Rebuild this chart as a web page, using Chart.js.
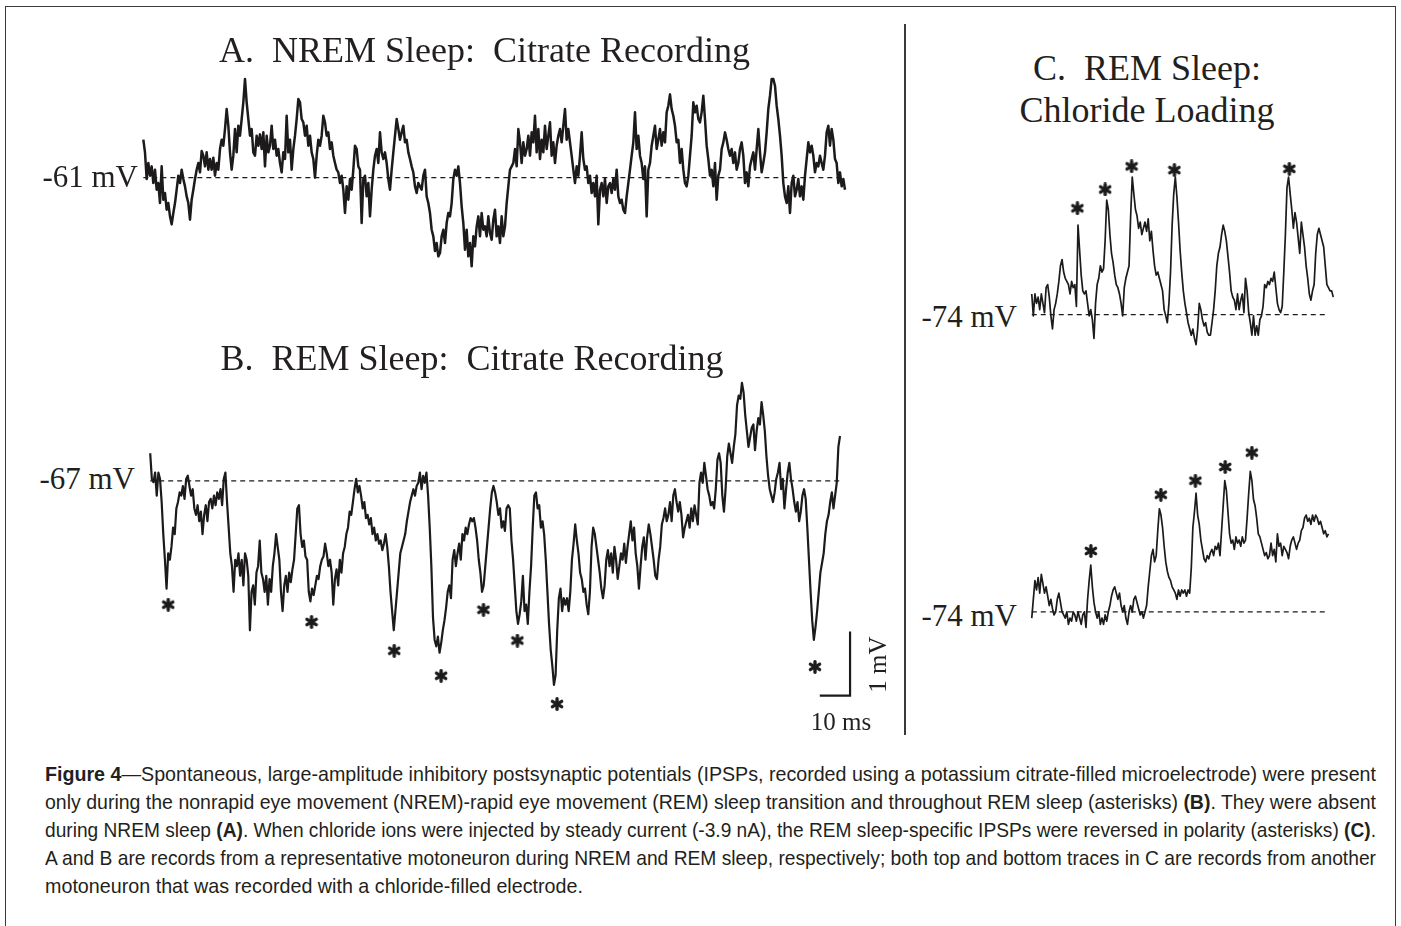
<!DOCTYPE html>
<html>
<head>
<meta charset="utf-8">
<title>Figure 4</title>
<script src="https://cdn.jsdelivr.net/npm/chart.js@4.4.1/dist/chart.umd.min.js"></script>
<style>
  html, body { margin: 0; padding: 0; background: #fff; }
  body { width: 1401px; height: 926px; position: relative; overflow: hidden; color: #231f20; }
  .frame { position: absolute; left: 5px; top: 6px; width: 1389px; height: 980px; border: 1.5px solid #3a3a3a; }
  .divider { position: absolute; left: 904px; top: 24px; width: 1.5px; height: 711px; background: #3a3a3a; }
  .serif { position: absolute; font-family: "Liberation Serif", "Times New Roman", serif; line-height: 1; white-space: pre; }
  canvas { position: absolute; }
  .caption { position: absolute; left: 45px; top: 760px; width: 1331px;
    font-family: "Liberation Sans Narrow", "Arial Narrow", "Liberation Sans", sans-serif;
    font-size: 21px; line-height: 28px; }
  .caption div { white-space: nowrap; transform-origin: 0 0; }
  .caption span { display: inline-block; }
</style>
</head>
<body>
<div class="frame"></div>
<div class="divider"></div>

<div class="caption">
  <div><span><b>Figure 4</b>—Spontaneous, large-amplitude inhibitory postsynaptic potentials (IPSPs, recorded using a potassium citrate-filled microelectrode) were present</span></div>
  <div><span>only during the nonrapid eye movement (NREM)-rapid eye movement (REM) sleep transition and throughout REM sleep (asterisks) <b>(B)</b>. They were absent</span></div>
  <div><span>during NREM sleep <b>(A)</b>. When chloride ions were injected by steady current (-3.9 nA), the REM sleep-specific IPSPs were reversed in polarity (asterisks) <b>(C)</b>.</span></div>
  <div><span>A and B are records from a representative motoneuron during NREM and REM sleep, respectively; both top and bottom traces in C are records from another</span></div>
  <div><span>motoneuron that was recorded with a chloride-filled electrode.</span></div>
</div>

<script>
// traces: one sample every DT ms, values in mV from the resting level
const DT = 0.54;

const panelTitles = ['A.  NREM Sleep:  Citrate Recording', 'B.  REM Sleep:  Citrate Recording', 'C.  REM Sleep:', 'Chloride Loading'];
const restingLabels = ['-61 mV', '-67 mV', '-74 mV', '-74 mV'];
const scaleLabels = ['10 ms', '1 mV'];

// A. NREM sleep, citrate electrode (-61 mV)
const nremA = [
  0.57, 0.38, -0.02, 0.22, 0.03, 0.17, -0.08, 0.12, -0.18, -0.08,
  -0.38, 0.17, -0.33, -0.23, -0.48, -0.38, -0.58, -0.70, -0.53, -0.38,
  -0.18, 0.03, -0.08, 0.12, -0.02, -0.13, -0.28, -0.38, -0.63, -0.33,
  -0.18, -0.02, 0.12, 0.22, 0.08, 0.40, 0.33, 0.17, 0.38, 0.12,
  0.28, 0.12, 0.30, 0.03, 0.22, 0.12, 0.43, 0.57, 0.48, 0.73,
  1.03, 0.78, 0.38, 0.12, 0.33, 0.73, 0.38, 0.78, 0.63, 0.88,
  1.13, 1.48, 1.13, 0.88, 0.63, 0.73, 0.38, 0.33, 0.63, 0.48,
  0.65, 0.43, 0.68, 0.17, 0.63, 0.38, 0.48, 0.78, 0.43, 0.57,
  0.33, 0.43, 0.22, 0.08, 0.38, 0.28, 0.93, 0.38, 0.57, 0.12,
  0.43, 0.63, 0.88, 1.18, 1.13, 0.88, 0.83, 0.63, 0.78, 0.48,
  0.63, 0.38, 0.28, 0.00, 0.33, 0.57, 0.48, 0.63, 0.93, 0.83,
  0.63, 0.68, 0.43, 0.53, 0.33, 0.22, 0.12, 0.08, -0.08, 0.03,
  -0.18, -0.53, -0.13, -0.33, -0.02, -0.18, 0.12, 0.48, 0.43, 0.17,
  0.12, -0.68, -0.02, 0.03, -0.28, -0.08, -0.58, -0.18, 0.12, 0.33,
  0.43, 0.22, 0.68, 0.38, 0.28, 0.38, 0.22, -0.02, -0.18, 0.12,
  0.38, 0.63, 0.88, 0.73, 0.57, 0.68, 0.78, 0.53, 0.57, 0.38,
  0.28, 0.17, 0.08, -0.13, -0.23, -0.08, -0.13, -0.18, 0.03, 0.12,
  -0.28, -0.38, -0.53, -0.78, -0.88, -1.10, -0.98, -1.18, -1.13, -0.88,
  -0.78, -0.98, -0.68, -0.53, -0.58, -0.38, -0.02, 0.12, 0.03, 0.17,
  -0.08, -0.43, -0.68, -1.08, -0.78, -1.18, -0.98, -1.33, -0.88, -1.03,
  -0.73, -0.58, -0.88, -0.53, -0.78, -0.73, -0.88, -0.58, -0.83, -0.93,
  -0.63, -0.48, -0.88, -0.73, -0.98, -0.58, -0.88, -0.73, -0.38, -0.13,
  0.12,
  0.17, 0.22, 0.43, 0.17, 0.73, 0.53, 0.22, 0.53, 0.33, 0.43,
  0.63, 0.33, 0.68, 0.53, 0.93, 0.38, 0.73, 0.28, 0.57, 0.38,
  0.78, 0.43, 0.63, 0.83, 0.33, 0.53, 0.22, 0.48, 0.63, 0.73,
  0.53, 0.78, 1.03, 0.57, 0.73, 0.53, 0.33, 0.12, -0.08, 0.17,
  0.03, 0.33, 0.68, 0.28, 0.12, 0.17, -0.08, 0.03, -0.23, -0.08,
  -0.28, 0.03, -0.70, -0.18, -0.08, -0.28, -0.02, -0.38, -0.13, -0.08,
  -0.23, -0.02, -0.18, 0.12, -0.28, -0.38, -0.33, -0.48, -0.53, -0.28,
  -0.08, 0.12, 0.33, 0.53, 0.98, 0.43, 0.63, 0.33, 0.22, -0.02,
  0.17, -0.58, 0.12, 0.22, 0.48, 0.63, 0.78, 0.43, 0.57, 0.73,
  0.48, 0.68, 0.53, 0.98, 1.08, 1.25, 1.03, 0.93, 0.78, 0.53,
  0.57, 0.22, 0.43, 0.12, -0.08, -0.13, 0.03, 0.33, 0.63, 1.13,
  0.98, 1.08, 0.88, 0.83, 0.98, 1.23, 0.88, 0.48, 0.28, 0.03,
  0.12, -0.13, 0.22, -0.33, 0.03, 0.12, 0.43, 0.53, 0.68, 0.57,
  0.43, 0.33, 0.43, 0.22, 0.38, 0.12, 0.22, 0.43, 0.53, 0.33,
  -0.08, 0.08, -0.13, 0.17, 0.28, 0.38, 0.12, 0.43, 0.73, 0.38,
  0.08, 0.22, 0.38, 0.68, 1.03, 1.23, 1.48, 1.48, 1.38, 1.08,
  0.88, 0.63, 0.33, -0.08, -0.28, -0.38, -0.13, -0.53, -0.08, 0.03,
  -0.28, -0.18, -0.02, -0.28, -0.13, -0.33, 0.03, 0.28, 0.53, 0.38,
  0.48, 0.33, 0.08, 0.22, 0.17, 0.33, 0.22, 0.12, 0.33, 0.68,
  0.78, 0.48, 0.73, 0.57, 0.28, 0.22, -0.08, 0.08, -0.13, -0.02,
  -0.18
];

// B. REM sleep, citrate electrode (-67 mV)
const remB = [
  0.43, 0.03, -0.02, 0.13, -0.23, 0.13, 0.03, -0.33, -0.83, -1.23,
  -1.68, -1.13, -1.23, -1.03, -0.73, -0.83, -0.43, -0.33, -0.18, -0.23,
  -0.08, -0.28, 0.03, 0.08, -0.08, -0.23, -0.13, -0.43, -0.53, -0.38,
  -0.63, -0.48, -0.83, -0.53, -0.38, -0.63, -0.33, -0.28, -0.43, -0.23,
  -0.38, -0.18, -0.28, -0.13, -0.38, 0.03, 0.13, -0.33, -0.73, -1.13,
  -1.33, -1.73, -1.23, -1.33, -1.13, -1.48, -1.23, -1.63, -1.13, -1.23,
  -1.48, -2.33, -1.73, -1.63, -1.93, -1.43, -1.33, -0.93, -1.43, -1.53,
  -1.73, -1.48, -1.93, -1.53, -1.73, -1.33, -1.13, -0.83, -1.03, -1.23,
  -1.73, -2.03, -1.63, -1.48, -1.73, -1.43, -1.58, -1.38, -1.23, -0.83,
  -0.43, -0.38, -0.83, -1.03, -0.93, -1.18, -1.23, -1.73, -1.88, -1.68,
  -1.78, -1.63, -1.48, -1.53, -1.33, -1.23, -1.18, -0.98, -1.13, -1.33,
  -1.23, -1.43, -1.93, -1.53, -1.38, -1.63, -1.23, -1.43, -1.13, -1.03,
  -0.83, -0.73, -0.48, -0.53, -0.33, -0.13, 0.03, -0.18, -0.08, -0.23,
  -0.43, -0.33, -0.58, -0.53, -0.68, -0.58, -0.83, -0.73, -0.93, -0.83,
  -0.98, -0.93, -1.08, -0.98, -0.83, -1.03, -1.33, -1.73, -2.03, -2.33,
  -2.03, -1.73, -1.43, -1.13, -1.03, -0.93, -0.83, -0.63, -0.48, -0.33,
  -0.23, -0.13, -0.23, -0.08, -0.03, 0.13, -0.13, 0.08, -0.03, 0.13,
  -0.23, -0.73, -1.33, -2.13, -2.48, -2.58, -2.43, -2.68, -2.53, -2.33,
  -2.18, -1.98, -1.73, -1.63, -1.83, -1.23, -1.08, -1.33, -1.13, -0.98,
  -1.23, -0.83, -0.93, -0.73, -0.83, -0.68, -0.58, -0.63, -0.58, -0.73,
  -0.93, -1.23, -1.43, -1.73, -1.63, -1.33, -1.03, -0.73, -0.43, -0.18,
  -0.08, -0.18, -0.33, -0.53, -0.43, -0.73, -0.63, -0.78, -0.43, -0.38,
  -0.43,
  -0.93, -1.23, -1.63, -2.03, -2.23, -2.08, -1.88, -1.48, -2.03, -1.93,
  -2.23, -1.73, -1.33, -0.73, -0.23, -0.18, -0.43, -0.38, -0.73, -0.63,
  -0.83, -1.23, -1.73, -2.23, -2.63, -2.88, -3.18, -3.03, -2.33, -1.83,
  -1.68, -2.03, -1.83, -1.93, -1.83, -2.03, -1.73, -1.23, -0.98, -0.68,
  -0.93, -1.13, -1.43, -1.53, -1.73, -1.68, -1.93, -2.08, -1.73, -1.03,
  -0.73, -0.83, -1.03, -1.23, -1.43, -1.68, -1.83, -1.63, -1.23, -1.08,
  -1.33, -1.13, -1.43, -1.03, -1.23, -1.53, -1.33, -1.13, -1.23, -0.98,
  -1.28, -1.03, -0.83, -0.63, -0.93, -0.73, -1.13, -1.33, -1.68, -1.33,
  -1.03, -0.88, -1.23, -0.88, -0.68, -0.83, -1.03, -1.23, -1.48, -1.53,
  -1.23, -1.03, -0.68, -0.58, -0.43, -0.63, -0.53, -0.33, -0.63, -0.23,
  -0.13, -0.33, -0.48, -0.33, -0.53, -0.88, -0.73, -0.63, -0.53, -0.73,
  -0.43, -0.63, -0.38, -0.53, -0.68, -0.03, 0.13, -0.03, 0.28, 0.08,
  -0.13, -0.23, -0.38, -0.33, -0.43, -0.13, 0.33, 0.43, 0.28, -0.23,
  -0.48, -0.13, 0.38, 0.58, 0.43, 0.28, 0.53, 0.73, 1.18, 1.33,
  1.28, 1.53, 1.38, 1.03, 0.78, 0.53, 0.68, 0.83, 0.88, 0.48,
  0.78, 0.98, 0.88, 1.23, 1.03, 0.78, 0.38, 0.08, -0.13, -0.23,
  -0.33, -0.18, 0.03, 0.13, 0.28, -0.13, 0.03, -0.43, -0.13, 0.13,
  0.28, 0.03, -0.13, -0.33, -0.48, -0.33, -0.63, -0.48, -0.23, -0.13,
  -0.28, -0.73, -1.23, -1.73, -2.18, -2.48, -2.28, -2.03, -1.73, -1.43,
  -1.28, -1.13, -0.83, -0.63, -0.53, -0.33, -0.18, -0.43, -0.23, -0.03,
  0.53, 0.70
];
const remBStarT = [5.95, 53.3, 80.6, 96.1, 110.1, 121.3, 134.4, 219.6];
const remBStarV = [-1.93, -2.20, -2.65, -3.04, -2.01, -2.49, -3.48, -2.90];

// C. REM sleep, chloride loading (top and bottom, both -74 mV)
const chlorideTop = [
  0.33, -0.02, 0.33, 0.18, 0.28, 0.08, 0.33, 0.18, 0.03, 0.43,
  0.48, 0.28, -0.02, -0.23, 0.08, 0.18, 0.33, 0.53, 0.78, 0.88,
  0.68, 0.58, 0.53, 0.48, 0.33, 0.53, 0.43, 0.48, 0.13, 1.43,
  1.03, 0.63, 0.38, 0.33, 0.38, 0.18, -0.02, 0.08, -0.08, -0.38,
  0.18, 0.48, 0.58, 0.78, 0.68, 0.73, 1.18, 1.83, 1.68, 1.28,
  0.98, 0.83, 0.63, 0.48, 0.43, 0.33, 0.18, -0.02, 0.43, 0.58,
  0.68, 0.78, 1.58, 2.20, 1.93, 1.68, 1.58, 1.38, 1.48, 1.28,
  1.38, 1.48, 1.33, 1.53, 1.18, 1.33, 1.03, 0.78, 0.63, 0.68,
  0.58, 0.48, 0.38, 0.08, -0.02, -0.13, 0.18, 0.68, 1.43, 1.93,
  2.20, 1.88, 1.48, 1.03, 0.68, 0.38, 0.18, 0.03, -0.13, -0.23,
  -0.33, -0.23, -0.38, -0.48, -0.23, 0.18, 0.08, -0.08, -0.18, -0.13,
  -0.28, -0.33, -0.33, -0.13, 0.08, 0.38, 0.78, 0.98, 1.08, 1.28,
  1.43, 1.33, 1.18, 0.93, 0.68, 0.38, 0.28, 0.23, 0.08, 0.33,
  0.08, 0.23, 0.33, 0.03, 0.58, 0.38, 0.03, -0.13, -0.33, -0.02,
  -0.33, -0.18, -0.33, -0.08, -0.02, 0.13, 0.48, 0.43, 0.53, 0.48,
  0.58, 0.53, 0.68, 0.43, 0.18, 0.08, 0.03, 0.13, 0.68, 1.28,
  2.03, 2.20, 1.93, 1.68, 1.38, 1.63, 1.48, 1.23, 0.98, 1.48,
  1.28, 1.08, 0.78, 0.58, 0.33, 0.23, 0.38, 0.48, 0.98, 1.28,
  1.38, 1.28, 1.18, 1.08, 0.78, 0.48, 0.43, 0.38, 0.38, 0.28
];
const chlorideTopStarT = [15.45, 24.85, 33.8, 48.3, 87.2];
const chlorideTopStarV = [1.70, 2.00, 2.37, 2.31, 2.33];

const chlorideBottom = [
  -0.10, 0.20, 0.50, 0.35, 0.55, 0.30, 0.60, 0.45, 0.30, 0.40,
  0.25, 0.10, 0.20, 0.05, -0.05, 0.00, 0.20, 0.30, 0.15, 0.00,
  -0.05, -0.10, 0.00, -0.20, -0.10, -0.15, 0.00, -0.05, -0.15, 0.00,
  -0.10, -0.20, -0.05, 0.00, -0.25, 0.20, 0.50, 0.75, 0.40, 0.15,
  0.00, -0.10, 0.00, -0.20, -0.10, -0.20, -0.05, -0.15, 0.00, 0.10,
  0.25, 0.35, 0.40, 0.30, 0.20, 0.30, 0.10, 0.00, 0.10, -0.10,
  -0.20, 0.00, 0.10, 0.00, 0.20, 0.25, 0.15, 0.05, -0.05, 0.00,
  -0.10, 0.00, 0.10, 0.40, 0.65, 0.90, 1.00, 0.80, 0.90, 1.30,
  1.65, 1.55, 1.35, 1.05, 0.80, 0.65, 0.55, 0.50, 0.40, 0.35,
  0.30, 0.20, 0.35, 0.25, 0.35, 0.30, 0.35, 0.25, 0.35, 0.30,
  0.70, 1.35, 1.60, 1.90, 1.55, 1.40, 1.15, 1.00, 0.85, 0.80,
  0.90, 0.85, 0.95, 1.00, 0.90, 1.05, 1.00, 1.10, 0.90, 1.30,
  1.70, 2.10, 1.95, 1.60, 1.25, 1.10, 1.15, 1.00, 1.20, 1.10,
  1.15, 1.05, 1.20, 1.10, 1.15, 1.50, 1.90, 2.25, 2.10, 1.80,
  1.70, 1.50, 1.25, 1.20, 1.10, 1.00, 0.90, 0.95, 0.85, 0.90,
  1.10, 0.90, 1.00, 0.80, 1.25, 1.05, 1.10, 0.90, 1.05, 1.00,
  0.95, 0.85, 1.05, 1.15, 1.20, 1.10, 1.00, 1.10, 1.15, 1.30,
  1.35, 1.50, 1.55, 1.45, 1.50, 1.40, 1.55, 1.45, 1.55, 1.50,
  1.40, 1.45, 1.35, 1.25, 1.30, 1.20, 1.25
];
const chlorideBottomStarT = [20.0, 43.7, 55.4, 65.5, 74.5];
const chlorideBottomStarV = [0.975, 1.875, 2.10, 2.32, 2.55];

// calibration bar: 10 ms by 1 mV, corner at (231.2 ms, -3.35 mV) of trace B
const scaleBarT = [221.2, 231.2, 231.2];
const scaleBarV = [-3.35, -3.35, -2.35];

// ---- drawing ----
const INK = '#1c1a1b';
const PX_PER_MS = 3.0864;
const PX_PER_MV = 66.67;

function series(values) {
  return values.map((v, i) => ({ x: i * DT, y: v }));
}
function pairs(ts, vs) {
  return ts.map((t, i) => ({ x: t, y: vs[i] }));
}

// bold six-armed asterisk used as the point style for marked IPSPs
function asteriskMark(size) {
  const c = document.createElement('canvas');
  c.width = c.height = size;
  const g = c.getContext('2d');
  g.strokeStyle = INK;
  g.lineWidth = size * 0.24;
  g.lineCap = 'round';
  const r = size / 2 - g.lineWidth / 2;
  for (let k = 0; k < 3; k++) {
    const a = Math.PI / 2 + k * Math.PI / 3;
    g.beginPath();
    g.moveTo(size / 2 + r * Math.cos(a), size / 2 + r * Math.sin(a));
    g.lineTo(size / 2 - r * Math.cos(a), size / 2 - r * Math.sin(a));
    g.stroke();
  }
  return c;
}
const STAR = asteriskMark(14);

// a canvas whose plot area maps exactly to the figure's ms / mV scale
function placeCanvas(origin, r) {
  const left = Math.round(origin[0] + r.tmin * PX_PER_MS);
  const top = Math.round(origin[1] - r.vmax * PX_PER_MV);
  const w = Math.round((r.tmax - r.tmin) * PX_PER_MS);
  const h = Math.round((r.vmax - r.vmin) * PX_PER_MV);
  const c = document.createElement('canvas');
  c.width = w; c.height = h;
  c.style.left = left + 'px'; c.style.top = top + 'px';
  c.style.width = w + 'px'; c.style.height = h + 'px';
  document.body.appendChild(c);
  const xmin = (left - origin[0]) / PX_PER_MS;
  const ymax = (origin[1] - top) / PX_PER_MV;
  return { canvas: c, xmin: xmin, xmax: xmin + w / PX_PER_MS, ymin: ymax - h / PX_PER_MV, ymax: ymax };
}

function drawTrace(origin, range, values, baseEnd, stars, lineWidth, extra) {
  const p = placeCanvas(origin, range);
  const datasets = [
    { data: series(values), borderColor: INK, borderWidth: lineWidth, pointRadius: 0, tension: 0, borderJoinStyle: 'round' },
    { data: [{ x: 0, y: 0 }, { x: baseEnd, y: 0 }], borderColor: INK, borderWidth: 1.2, borderDash: [5, 4], pointRadius: 0 }
  ];
  if (stars) {
    datasets.push({ type: 'scatter', data: stars, pointStyle: STAR, pointRadius: 6, showLine: false });
  }
  if (extra) datasets.push(extra);
  new Chart(p.canvas, {
    type: 'line',
    data: { datasets: datasets },
    options: {
      responsive: false,
      animation: false,
      events: [],
      layout: { padding: 0 },
      plugins: { legend: { display: false }, tooltip: { enabled: false } },
      scales: {
        x: { type: 'linear', display: false, min: p.xmin, max: p.xmax },
        y: { type: 'linear', display: false, min: p.ymin, max: p.ymax }
      }
    }
  });
}

function text(str, x, baseline, size, align) {
  const d = document.createElement('div');
  d.className = 'serif';
  d.textContent = str;
  d.style.fontSize = size + 'px';
  d.style.left = x + 'px';
  d.style.top = (baseline - 0.8375 * size) + 'px';
  const shift = align === 'center' ? '-50%' : align === 'right' ? '-100%' : '0';
  d.style.transform = 'translateX(' + shift + ')';
  document.body.appendChild(d);
  return d;
}

// panel A
drawTrace([143.33, 177.7], { tmin: -2, tmax: 230, vmin: -1.6, vmax: 1.7 },
  nremA, (nremA.length - 1) * DT, null, 2.5);
// panel B with calibration bar
drawTrace([143.33, 478.3], { tmin: -2, tmax: 234, vmin: -3.75, vmax: 1.75 },
  remB, (remB.length - 1) * DT, pairs(remBStarT, remBStarV), 2.2,
  { data: pairs(scaleBarT, scaleBarV), borderColor: INK, borderWidth: 2.2, pointRadius: 0, tension: 0 });
// panel C
drawTrace([1025, 318.3], { tmin: -2, tmax: 104, vmin: -0.8, vmax: 2.6 },
  chlorideTop, 99.5, pairs(chlorideTopStarT, chlorideTopStarV), 1.7);
drawTrace([1025, 616.7], { tmin: -2, tmax: 104, vmin: -0.5, vmax: 2.8 },
  chlorideBottom, 99.9, pairs(chlorideBottomStarT, chlorideBottomStarV), 1.7);

// titles and labels
text(panelTitles[0], 484.5, 62, 36, 'center');
text(panelTitles[1], 472, 370, 36, 'center');
text(panelTitles[2], 1147, 80, 36, 'center');
text(panelTitles[3], 1147, 122, 36, 'center');
text(restingLabels[0], 138, 187, 31, 'right');
text(restingLabels[1], 135, 489, 31, 'right');
text(restingLabels[2], 1017, 327, 31, 'right');
text(restingLabels[3], 1017, 626, 31, 'right');
text(scaleLabels[0], 841, 730, 25, 'center');
const mv = text(scaleLabels[1], 877, 664 + 25 * 0.8375 - 12.5, 25, 'center');
mv.style.transformOrigin = '50% 50%';
mv.style.transform = 'translateX(-50%) rotate(-90deg)';

// caption: condensed sans, first four lines set full width like the justified original
const capLines = Array.from(document.querySelectorAll('.caption div'));
const capWidth = 1331;
const squeeze = [];
capLines.forEach((d, i) => {
  if (i < capLines.length - 1) {
    const s = capWidth / d.firstElementChild.getBoundingClientRect().width;
    squeeze.push(s);
    d.style.transform = 'scaleX(' + s + ')';
  }
});
const meanSqueeze = squeeze.reduce((a, b) => a + b, 0) / squeeze.length;
capLines[capLines.length - 1].style.transform = 'scaleX(' + (meanSqueeze * 1.017) + ')';
</script>
</body>
</html>
